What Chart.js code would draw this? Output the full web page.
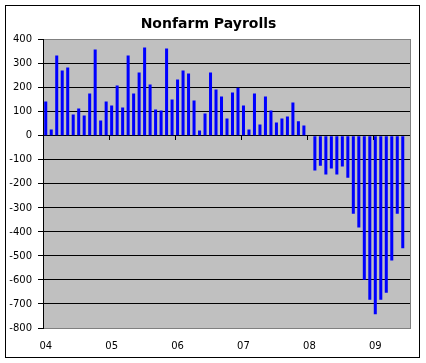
<!DOCTYPE html>
<html>
<head>
<meta charset="utf-8">
<script src="https://cdn.jsdelivr.net/npm/chart.js@4/dist/chart.umd.min.js"></script>
<style>
  body { margin: 0; background: #fff; }
  #frame { position: absolute; left: 5px; top: 5px; width: 413px; height: 351px; border: 1px solid #000; }
  canvas { display: block; }
</style>
</head>
<body>
<div id="frame"><canvas id="payrolls" width="413" height="351"></canvas></div>
<script>
// year tick labels, one per January
const years = ['04', '05', '06', '07', '08', '09'];
const months = ['Jan', 'Feb', 'Mar', 'Apr', 'May', 'Jun', 'Jul', 'Aug', 'Sep', 'Oct', 'Nov', 'Dec'];

// monthly change in nonfarm payrolls (thousands)
const jobs04 = [143, 26, 335, 272, 285, 89, 114, 85, 176, 360, 64, 143];
const jobs05 = [126, 210, 118, 335, 176, 264, 368, 214, 110, 106, 364, 151];
const jobs06 = [235, 272, 260, 147, 22, 93, 264, 193, 164, 72, 181, 200];
const jobs07 = [126, 26, 176, 47, 164, 106, 56, 72, 81, 139, 61, 43];
const jobs08 = [0, -144, -124, -161, -136, -161, -128, -174, -324, -382, -599, -682];
const jobs09 = [-743, -682, -653, -519, -324, -468, null];

const values = [...jobs04, ...jobs05, ...jobs06, ...jobs07, ...jobs08, ...jobs09];
const labels = values.map((_, i) => months[i % 12] + ' ' + years[Math.floor(i / 12)]);

const font = { family: 'DejaVu Sans', size: 10 };

// gray plot area, gray frame on the right, year marks on the zero line
const plotArea = {
  id: 'plotArea',
  beforeDraw(chart) {
    const { ctx, chartArea: a } = chart;
    ctx.save();
    ctx.fillStyle = '#c0c0c0';
    ctx.fillRect(a.left, a.top, a.right - a.left, a.bottom - a.top);
    ctx.restore();
  },
  afterDatasetsDraw(chart) {
    const { ctx, chartArea: a, scales } = chart;
    const x = scales.x, y = scales.y;
    ctx.save();
    ctx.lineWidth = 1;
    ctx.strokeStyle = '#808080';
    ctx.beginPath();
    ctx.moveTo(Math.round(a.right) - 0.5, a.top);
    ctx.lineTo(Math.round(a.right) - 0.5, a.bottom);
    ctx.stroke();
    const y0 = Math.round(y.getPixelForValue(0));
    ctx.strokeStyle = '#000';
    ctx.beginPath();
    for (let i = 12; i < labels.length; i += 12) {
      const bx = Math.round((x.getPixelForValue(i - 1) + x.getPixelForValue(i)) / 2) + 0.5;
      ctx.moveTo(bx, y0);
      ctx.lineTo(bx, y0 + 4);
    }
    ctx.stroke();
    ctx.restore();
  }
};

new Chart(document.getElementById('payrolls'), {
  type: 'bar',
  data: {
    labels: labels,
    datasets: [{
      label: 'Nonfarm Payrolls',
      data: values,
      backgroundColor: '#0000ff',
      borderWidth: 0,
      barPercentage: 0.55,
      categoryPercentage: 1
    }]
  },
  options: {
    responsive: false,
    animation: false,
    layout: { padding: { left: 0, right: 8, top: 0, bottom: 0 } },
    plugins: {
      legend: { display: false },
      tooltip: { enabled: false },
      title: {
        display: true,
        text: 'Nonfarm Payrolls',
        color: '#000',
        font: { family: 'DejaVu Sans', size: 14, weight: 'bold' },
        padding: { top: 10, bottom: 7 }
      }
    },
    scales: {
      x: {
        grid: { display: false },
        border: { display: false },
        ticks: {
          autoSkip: false,
          maxRotation: 0,
          color: '#000',
          font: font,
          padding: 4,
          callback: (v, i) => (i % 12 === 0 ? years[i / 12] : '')
        },
        afterFit: s => { s.height = 29; }
      },
      y: {
        min: -800,
        max: 400,
        ticks: { stepSize: 100, color: '#000', font: font, padding: 6 },
        grid: {
          color: c => (c.tick && (c.tick.value === 400 || c.tick.value === -800) ? '#808080' : '#000'),
          tickColor: '#000',
          tickLength: 5
        },
        border: { color: '#000' },
        afterFit: s => { s.width = 37; }
      }
    }
  },
  plugins: [plotArea]
});
</script>
</body>
</html>
